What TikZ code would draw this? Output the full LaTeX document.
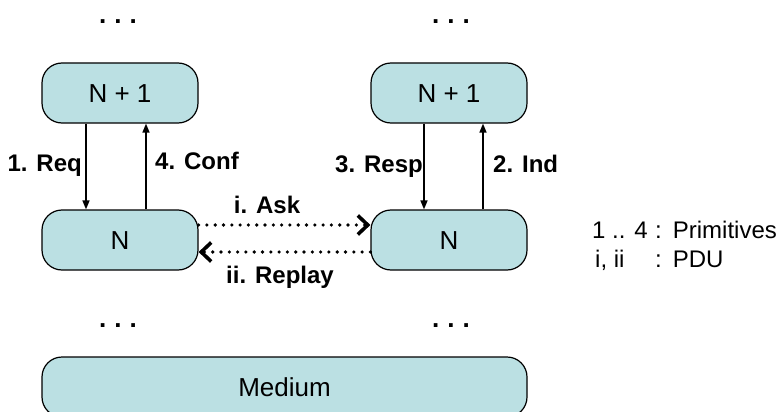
\documentclass[tikz,border=0pt]{standalone}
\usepackage{fontspec}
\setmainfont{Liberation Sans}
\usetikzlibrary{arrows.meta}
\definecolor{boxfill}{HTML}{BBE0E3}
\begin{document}
\begin{tikzpicture}[x=1pt,y=-1pt,
  layerbox/.style={draw=black, line width=1.2pt, fill=boxfill, rounded corners=20pt,
    minimum width=156pt, minimum height=60pt, inner sep=0pt,
    font=\fontsize{26}{30}\selectfont, text height=19pt, text depth=0pt},
  prim/.style={line width=1.5pt, -{Triangle[length=9pt,width=7pt]}},
  pdu/.style={line width=3.6pt, dash pattern=on 0pt off 8.3pt, line cap=round,
    -{Straight Barb[length=10pt,width=19pt,line width=3.6pt, line cap=butt]}},
  lbl/.style={font=\fontsize{24}{28}\selectfont\bfseries, inner sep=0pt},
  txt/.style={font=\fontsize{24}{28}\selectfont, inner sep=0pt},
  dots/.style={font=\fontsize{26}{30}\selectfont\bfseries, inner sep=0pt, anchor=base}
]
\useasboundingbox (0,0) rectangle (779,412);

\node[layerbox] (l1) at (120,93) {N + 1};
\node[layerbox] (l0) at (120,240) {N};
\node[layerbox] (r1) at (449,93) {N + 1};
\node[layerbox] (r0) at (449,240) {N};
\node[layerbox, minimum width=485pt] (med) at (284.5,387) {Medium};

% dots
\node[dots] (d1) at (118,24) {.\hspace{8pt}.\hspace{8pt}.};
\node[dots] (d2) at (451,24) {.\hspace{8pt}.\hspace{8pt}.};
\node[dots] (d3) at (118,327) {.\hspace{8pt}.\hspace{8pt}.};
\node[dots] (d4) at (451,327) {.\hspace{8pt}.\hspace{8pt}.};

% primitives
\draw[prim] ([xshift=-34pt]l1.south) -- ([xshift=-34pt]l0.north);
\draw[prim] ([xshift=26pt]l0.north) -- ([xshift=26pt]l1.south);
\draw[prim] ([xshift=-25pt]r1.south) -- ([xshift=-25pt]r0.north);
\draw[prim] ([xshift=34pt]r0.north) -- ([xshift=34pt]r1.south);

\node[lbl, anchor=base east] (req) at (82,171) {1. Req};
\node[lbl, anchor=base west] (conf) at (155,169) {4. Conf};
\node[lbl, anchor=base east] (resp) at (423,172) {3. Resp};
\node[lbl, anchor=base west] (ind) at (493,172) {2. Ind};

% PDUs
\draw[pdu] ([yshift=15pt]l0.east) -- ([yshift=15pt]r0.west);
\draw[pdu] ([yshift=-12pt]r0.west) -- ([yshift=-12pt]l0.east);

\node[lbl, anchor=base] (ask) at (267,213) {i. Ask};
\node[lbl, anchor=base] (rep) at (280,283) {ii. Replay};

% legend
\node[txt, anchor=base west] (leg1) at (592,238) {\makebox[63pt][l]{1 .. 4}:\hspace{11pt}Primitives};
\node[txt, anchor=base west] (leg2) at (595,267) {\makebox[60pt][l]{i, ii}:\hspace{11pt}PDU};
\end{tikzpicture}
\end{document}
